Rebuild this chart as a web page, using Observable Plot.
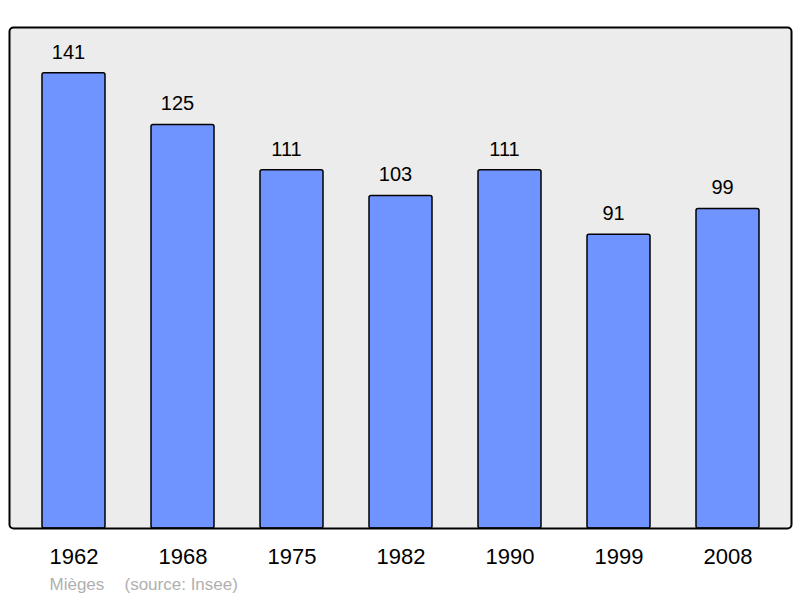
<!DOCTYPE html>
<html><head><meta charset="utf-8">
<script src="https://cdn.jsdelivr.net/npm/d3@7"></script>
<script src="https://cdn.jsdelivr.net/npm/@observablehq/plot@0.6"></script>
<style>body{margin:0;background:#fff}</style>
</head><body><div id="chart"></div>
<script>
const years = ["1962","1968","1975","1982","1990","1999","2008"];
const population = [141,125,111,103,111,91,99];
const commune = "Mièges";
const source = "(source: Insee)";
const data = years.map((y,i)=>({year:y, pop:population[i]}));

const chart = Plot.plot({
  width: 800, height: 598,
  marginLeft: 9, marginRight: 9, marginTop: 27, marginBottom: 70,
  style: {fontFamily: "'Liberation Sans', Arial, sans-serif", background: "#fff"},
  x: {domain: years, paddingInner: 0.425, paddingOuter: 0.28, align: 0.51, label: null},
  y: {domain: [0, 155.2], axis: null},
  marks: [
    Plot.frame({fill: "#ececec", stroke: "none", rx: 4}),
    Plot.barY(data, {x: "year", y: "pop", fill: "#7094ff", stroke: "#000", strokeWidth: 1.5, rx: 2}),
    Plot.text(data, {x: "year", y: "pop", text: d => String(d.pop), dy: -21, dx: -5.5, fontSize: 20, fill: "#000"}),
    Plot.frame({stroke: "#000", strokeWidth: 2, rx: 4}),
    Plot.axisX({tickSize: 0, tickPadding: 20, fontSize: 22, fill: "#000", label: null}),
    Plot.text([commune], {frameAnchor: "bottom-left", text: d => d, dx: 40, dy: 61, fontSize: 17, fill: "#b0b0b0", textAnchor: "start"}),
    Plot.text([source], {frameAnchor: "bottom-left", text: d => d, dx: 115, dy: 61, fontSize: 17, fill: "#b0b0b0", textAnchor: "start"})
  ]
});
document.getElementById("chart").appendChild(chart);
</script>
</body></html>
